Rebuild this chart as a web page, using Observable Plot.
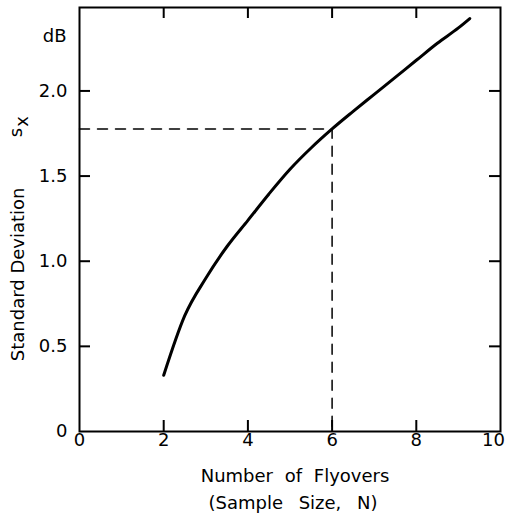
<!DOCTYPE html>
<html>
<head>
<meta charset="utf-8">
<script src="https://cdn.jsdelivr.net/npm/d3@7"></script>
<script src="https://cdn.jsdelivr.net/npm/@observablehq/plot@0.6"></script>
<style>
  html, body { margin: 0; padding: 0; background: #fff; }
</style>
</head>
<body>
<div id="chart"></div>
<script>
// Sample size N (number of flyovers) and standard deviation s_x (dB)
const flyovers = [2.0, 2.5, 3.0, 3.5, 4.0, 4.5, 5.0, 5.5, 6.0, 6.5, 7.0, 7.5, 8.0, 8.5, 9.0, 9.27];
const stdDev   = [0.33, 0.68, 0.90, 1.085, 1.24, 1.395, 1.54, 1.665, 1.777, 1.88, 1.98, 2.08, 2.18, 2.28, 2.37, 2.425];

// Example reading shown by the dashed lines
const readN = 6;
const readS = 1.777;

// Axis ticks
const xTicks = [0, 2, 4, 6, 8, 10];
const yTicks = [0, 0.5, 1.0, 1.5, 2.0];
const unitLabel = "dB";
const unitY = 2.32;

const xLabelLines = ["Number of Flyovers", "(Sample Size, N)"];
const yLabelMain = "Standard Deviation";
const yLabelSym = "s";
const yLabelSub = "x";

const curve = flyovers.map((n, i) => ({n, s: stdDev[i]}));
const guide = [{n: 0, s: readS}, {n: readN, s: readS}, {n: readN, s: 0}];

const W = 505, H = 513;
const mL = 79, mR = 5, mT = 7, mB = 82;
const frameW = W - mL - mR, frameH = H - mT - mB;
const tickLen = 11;

const font = "'DejaVu Sans', sans-serif";
const yFmt = d => d === 0 ? "0" : d.toFixed(1);
const innerX = xTicks.filter(d => d > 0 && d < 10);
const innerY = yTicks.filter(d => d > 0);
const lastX = xTicks[xTicks.length - 1];

const chart = Plot.plot({
  width: W,
  height: H,
  marginLeft: mL,
  marginRight: mR,
  marginTop: mT,
  marginBottom: mB,
  style: {fontFamily: font, fontSize: "18px", color: "black"},
  x: {domain: [0, 10], axis: null},
  y: {domain: [0, 2.49], axis: null},
  marks: [
    // inward ticks on all four sides
    Plot.tickX(innerX, {x: d => d, insetTop: frameH - tickLen, stroke: "black", strokeWidth: 2}),
    Plot.tickX(innerX, {x: d => d, insetBottom: frameH - tickLen, stroke: "black", strokeWidth: 2}),
    Plot.tickY(innerY, {y: d => d, insetRight: frameW - tickLen, stroke: "black", strokeWidth: 2}),
    Plot.tickY(innerY, {y: d => d, insetLeft: frameW - tickLen, stroke: "black", strokeWidth: 2}),
    Plot.frame({stroke: "black", strokeWidth: 2}),
    // tick labels
    Plot.text(xTicks.slice(0, -1), {x: d => d, text: d => String(d), frameAnchor: "bottom", lineAnchor: "top", dy: 2, fontSize: 18, letterSpacing: 1}),
    Plot.text([lastX], {x: d => d, text: d => String(d), frameAnchor: "bottom", lineAnchor: "top", dy: 2, dx: -7, fontSize: 18, letterSpacing: 1}),
    Plot.text(yTicks, {y: d => d, text: yFmt, frameAnchor: "left", textAnchor: "end", dx: -12, fontSize: 18, letterSpacing: 0.5}),
    Plot.text([unitLabel], {text: d => d, y: () => unitY, frameAnchor: "left", textAnchor: "end", dx: -13, fontSize: 18}),
    // dashed reading lines
    Plot.line(guide, {x: "n", y: "s", stroke: "black", strokeWidth: 1.5, strokeDasharray: "10,8"}),
    // curve
    Plot.line(curve, {x: "n", y: "s", stroke: "black", strokeWidth: 3, curve: "monotone-x"}),
    // axis titles
    Plot.text([xLabelLines[0]], {text: d => d, frameAnchor: "bottom", dy: 50, dx: 5, fontSize: 18, letterSpacing: 1.6}),
    Plot.text([xLabelLines[1]], {text: d => d, frameAnchor: "bottom", dy: 77, dx: 3, fontSize: 18, letterSpacing: 1.6}),
    Plot.text([yLabelMain], {text: d => d, frameAnchor: "left", y: () => 0.923, dx: -61, rotate: -90, textAnchor: "middle", fontSize: 18, letterSpacing: 1.1}),
    Plot.text([yLabelSym], {text: d => d, frameAnchor: "left", y: () => 1.79, dx: -63, rotate: -90, textAnchor: "middle", fontSize: 18})
  ]
});
document.getElementById("chart").appendChild(chart);

chart.querySelectorAll("text").forEach(t => {
  // subscript x on the y-axis symbol
  if (t.textContent === yLabelSym) {
    const ts = document.createElementNS("http://www.w3.org/2000/svg", "tspan");
    ts.setAttribute("dy", "0.3em");
    ts.setAttribute("dx", "1");
    ts.textContent = yLabelSub;
    t.appendChild(ts);
  }
  // wider word gaps in the x-axis title, as in the lettering of the original
  if (t.textContent === xLabelLines[0]) t.setAttribute("word-spacing", "6");
  if (t.textContent === xLabelLines[1]) t.setAttribute("word-spacing", "10");
});
</script>
</body>
</html>
